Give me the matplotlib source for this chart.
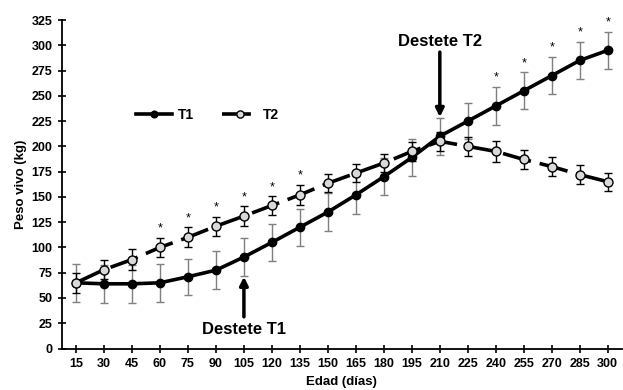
import numpy as np
import matplotlib.pyplot as plt

plt.rcParams['font.family'] = ['Liberation Sans', 'DejaVu Sans']
plt.rcParams['font.weight'] = 'bold'

dias = [15, 30, 45, 60, 75, 90, 105, 120, 135, 150, 165, 180, 195, 210, 225, 240, 255, 270, 285, 300]
t1 = [65, 64, 64, 65, 71, 77.5, 90.5, 105, 120, 135, 152, 170, 189, 210, 225, 240, 255, 270, 285, 295]
t1_err = [18.5, 18.5, 18.5, 18.5, 18, 18.5, 18.5, 18, 18.5, 18.5, 18.5, 18.5, 18.5, 18.5, 18, 19, 18.5, 18.5, 18.5, 18.5]
t2 = [65, 78, 88, 100, 110, 121, 131, 141.5, 152, 163.5, 173.5, 183.5, 195, 205, 200, 195, 187, 180, 172, 165]
t2_err = [10, 9.5, 10, 9.5, 10, 9.5, 9.5, 9, 10, 9, 9, 9, 9, 9.5, 9.5, 10, 9, 9, 9.5, 9]
star_t2 = [60, 75, 90, 105, 120, 135]
star_t1 = [240, 255, 270, 285, 300]

fig = plt.figure(figsize=(6.23, 3.9), dpi=100)
ax = fig.add_axes([0.0995, 0.1064, 0.8985, 0.8423])

ax.errorbar(dias, t1, yerr=t1_err, fmt='none', ecolor='#7f7f7f', elinewidth=1, capsize=3, capthick=1, zorder=2)
ax.errorbar(dias, t2, yerr=t2_err, fmt='none', ecolor='black', elinewidth=1, capsize=3, capthick=1, zorder=2)
ax.plot(dias, t1, color='black', lw=2.6, marker='o', ms=6, mfc='black', mec='black', label='T1', zorder=3)
ax.plot(dias, t2, color='black', lw=2.6, ls=(0, (8, 2.5)), marker='o', ms=6.5, mfc='#d9d9d9',
        mec='black', mew=1, label='T2', zorder=4)

# significance marks
for d in star_t2:
    i = dias.index(d)
    ax.text(d, t2[i] + t2_err[i] + 3, '*', ha='center', va='bottom', fontsize=9, fontweight='normal')
for d in star_t1:
    i = dias.index(d)
    ax.text(d, t1[i] + t1_err[i] + 3, '*', ha='center', va='bottom', fontsize=9, fontweight='normal')

ax.annotate('Destete T2', xy=(210, 229), xytext=(210, 296), ha='center', va='bottom', fontsize=12,
            arrowprops=dict(arrowstyle='-|>', color='black', lw=2.5, mutation_scale=12, shrinkA=0, shrinkB=0))
ax.annotate('Destete T1', xy=(105, 71), xytext=(105, 11), ha='center', va='bottom', fontsize=12,
            arrowprops=dict(arrowstyle='-|>', color='black', lw=2.5, mutation_scale=12, shrinkA=2, shrinkB=0))

ax.set_xlim(7.5, 307.5)
ax.set_ylim(0, 325)
ax.set_xticks(dias)
ax.set_yticks(np.arange(0, 326, 25))
ax.tick_params(direction='inout', length=6, width=1.2, labelsize=9, pad=4)
for s in ['top', 'right']:
    ax.spines[s].set_visible(False)
for s in ['left', 'bottom']:
    ax.spines[s].set_linewidth(1.3)

ax.set_xlabel('Edad (días)', fontsize=9.5, fontweight='bold', labelpad=4)
ax.set_ylabel('Peso vivo (kg)', fontsize=9.5, fontweight='bold', labelpad=3)

ax.legend(loc='center left', bbox_to_anchor=(0.11, 0.71), ncol=2, frameon=False, fontsize=10,
          handlelength=2.6, columnspacing=2.0, handletextpad=0.4, markerscale=0.8)

fig.savefig('out.png', dpi=100)
